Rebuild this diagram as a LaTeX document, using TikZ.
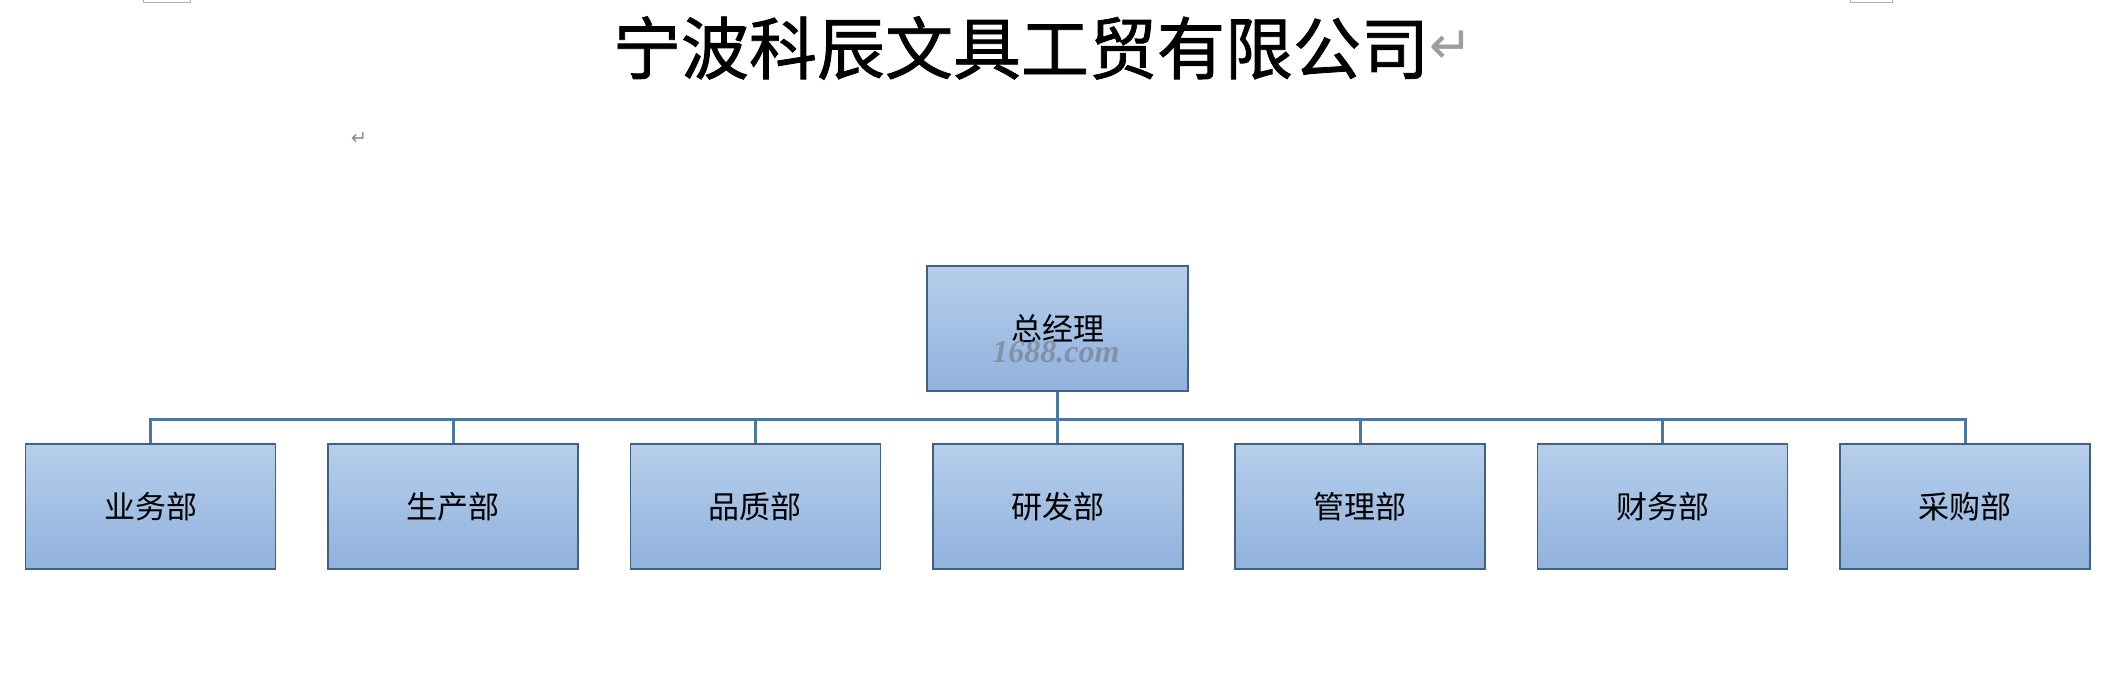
\documentclass[tikz,border=0pt]{standalone}
\usepackage{fontspec}
\newfontfamily\cjk{Noto Sans CJK SC}
\newfontfamily\cjktitle[FakeBold=1.2]{Noto Sans CJK SC}
\newfontfamily\dejavu{DejaVu Sans}
\newfontfamily\wmfont{Liberation Serif}
\definecolor{boxtop}{HTML}{B6CEEA}
\definecolor{boxbot}{HTML}{90B2DE}
\definecolor{boxline}{HTML}{43607F}
\definecolor{connline}{HTML}{4878A4}
\definecolor{markgray}{HTML}{8C8C8C}
\definecolor{wmgray}{HTML}{7A8494}
\tikzset{
  orgbox/.style={rectangle, draw=boxline, line width=1.6pt, top color=boxtop, bottom color=boxbot,
    minimum width=250pt, minimum height=125pt, inner sep=0pt,
    font=\cjk\fontsize{31}{36}\selectfont, text=black},
  topbox/.style={orgbox, minimum width=261pt},
  conn/.style={draw=connline, line width=3pt},
  retmark/.style={text=markgray, inner sep=0pt},
  cropmark/.style={draw=markgray!70, line width=1pt}
}
\begin{document}
\begin{tikzpicture}[x=1pt,y=-1pt]
\useasboundingbox[fill=white] (0,0) rectangle (2109,687);
% page corner marks
\draw[cropmark] (143,-2) -- (143,3) -- (190,3) -- (190,-2);
\draw[cropmark] (1850,-2) -- (1850,3) -- (1892,3) -- (1892,-2);
% title
\node[font=\cjktitle\fontsize{68}{80}\selectfont, inner sep=0pt, anchor=center] (title) at (1021,48) {宁波科辰文具工贸有限公司};
\node[retmark, font=\dejavu\fontsize{52}{60}\selectfont, anchor=west, text=markgray!85] (ret1) at ([xshift=0pt,yshift=1pt]title.east) {↵};
\node[retmark, font=\dejavu\fontsize{19}{22}\selectfont] (ret2) at (359,139) {↵};
% boxes
\node[topbox] (gm) at (1057.5,328.75) {总经理};
\node[font=\wmfont\bfseries\itshape\fontsize{32}{36}\selectfont, text=wmgray, opacity=0.75, inner sep=0pt] (wm) at (1056,352) {1688.com};
\node[orgbox] (c1) at (150.6,506.5) {业务部};
\node[orgbox] (c2) at (453.0,506.5) {生产部};
\node[orgbox] (c3) at (755.4,506.5) {品质部};
\node[orgbox] (c4) at (1057.8,506.5) {研发部};
\node[orgbox] (c5) at (1360.2,506.5) {管理部};
\node[orgbox] (c6) at (1662.6,506.5) {财务部};
\node[orgbox] (c7) at (1965.0,506.5) {采购部};
% connectors
\coordinate (bus) at (1057.5,419);
\draw[conn] (gm.south) -- (bus);
\foreach \c in {c1,c2,c3,c4,c5,c6,c7}{
  \draw[conn] (\c.north) |- (bus);
}
\end{tikzpicture}
\end{document}
